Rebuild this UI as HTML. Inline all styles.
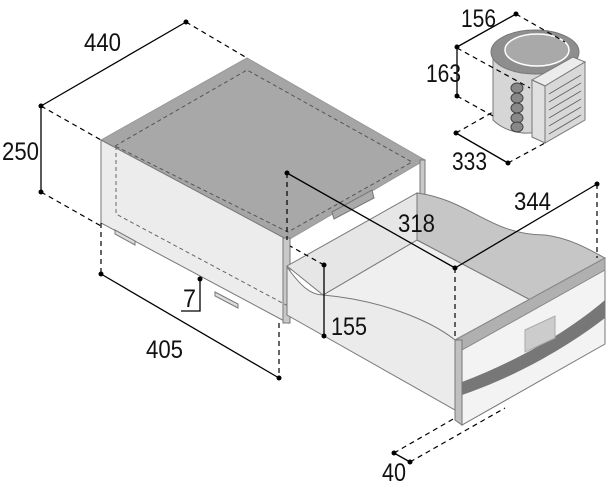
<!DOCTYPE html>
<html><head><style>html,body{margin:0;padding:0;background:#fff}svg{display:block}text{font-family:"Liberation Sans Narrow","Liberation Sans",sans-serif;font-size:25px;fill:#111}</style></head>
<body>
<svg width="608" height="488" viewBox="0 0 608 488" xmlns="http://www.w3.org/2000/svg">
<g stroke="#777" stroke-width="1">
<!-- cabinet -->
<polygon points="101,140 247,58 425,160 288,240" fill="#a5a5a5" stroke="#999"/>
<polygon points="115,146 247,70 412,162 288,232" fill="#a8a8a8" stroke="#555" stroke-dasharray="4,3"/>
<polygon points="101,140 288,240 288,323 101,223" fill="#ececec"/>
<polygon points="283,238 290,238 290,323 283,323" fill="#c8c8c8"/>
<polygon points="420,160 425,160 425,196 420,198" fill="#c8c8c8"/>
<polygon points="332,212 372,190 374,198 334,219" fill="#aaa"/>
<polyline points="116,146 116,214 288,306" fill="none" stroke="#666" stroke-dasharray="4,3"/>
<polygon points="115,230 135,241 135,245 115,234" fill="#ddd"/>
<polygon points="215,292 238,304 238,308 215,296" fill="#ddd"/>
<!-- drawer -->
<polygon points="323,295 417,240 540,305 455,340" fill="#efefef" stroke="#777"/>
<polygon points="287,266 417,193 417,240 323,295" fill="#e6e6e6" stroke="#777"/>
<path d="M417,193 C470,200 490,235 545,235 C570,238 590,250 605,258 L560,300 L540,305 L417,240 Z" fill="#c6c6c6" stroke="#777"/>
<path d="M287,267 C300,285 310,295 323,295 C380,300 430,320 455,340 L455,410 L287,315 Z" fill="#ebebeb" stroke="#777"/>
<polygon points="455,340 605,258 605,344 462,425 455,410" fill="#f3f3f3" stroke="#777"/>
<polygon points="455,340 605,258 605,270 462,350" fill="#b0b0b0" stroke="#888"/>
<polygon points="455,340 462,340 462,425 455,420" fill="#c0c0c0"/>
<path d="M462,382 C520,360 570,330 605,300 L605,318 C570,345 520,375 462,395 Z" fill="#777" stroke="none"/>
<polygon points="525,330 555,316 555,338 525,352" fill="#ccc" stroke="#aaa"/>
<!-- compressor -->
<path d="M493,52 L493,120 C505,132 525,135 535,132 L535,80 L575,60 C580,45 565,35 540,32 C505,32 493,42 493,52 Z" fill="#d6d6d6"/>
<ellipse cx="535" cy="52" rx="44" ry="22" fill="#8e8e8e"/>
<ellipse cx="537" cy="50" rx="32" ry="16" fill="#a9a9a9" stroke="#fff" stroke-width="1.5"/>
<g fill="#888" stroke="#444"><ellipse cx="517" cy="88" rx="6" ry="5"/><ellipse cx="517" cy="98" rx="6" ry="5"/><ellipse cx="517" cy="108" rx="6" ry="5"/><ellipse cx="517" cy="118" rx="6" ry="5"/><ellipse cx="517" cy="127" rx="6" ry="5"/></g>
<polygon points="532,80 573,57 585,62 545,86" fill="#ececec"/>
<polygon points="532,80 545,86 545,143 532,137" fill="#e0e0e0"/>
<polygon points="545,86 585,62 585,120 545,143" fill="#d8d8d8"/>
<g stroke="#666"><line x1="549" y1="94" x2="581" y2="75"/><line x1="549" y1="102" x2="581" y2="83"/><line x1="549" y1="110" x2="581" y2="91"/><line x1="549" y1="118" x2="581" y2="99"/><line x1="549" y1="126" x2="581" y2="107"/><line x1="549" y1="134" x2="581" y2="115"/></g>
</g>
<!-- dimensions -->
<g stroke="#000" stroke-width="1.3" fill="none">
<line x1="41" y1="106" x2="186" y2="22"/><line x1="41" y1="106" x2="41" y2="192"/>
<line x1="101" y1="274" x2="279" y2="378"/>
<line x1="287" y1="173" x2="455" y2="268"/><line x1="455" y1="268" x2="597" y2="184"/>
<line x1="324" y1="265" x2="324" y2="336"/>
<line x1="394" y1="453" x2="410" y2="462"/>
<line x1="457" y1="47" x2="516" y2="14"/><line x1="457" y1="48" x2="457" y2="96"/>
<line x1="456" y1="133" x2="508" y2="163"/>
<polyline points="181,311 200,311 200,280"/>
</g>
<g stroke="#000" stroke-width="1.2" stroke-dasharray="5,4" fill="none">
<line x1="186" y1="22" x2="247" y2="58"/><line x1="41" y1="106" x2="101" y2="140"/>
<line x1="41" y1="192" x2="101" y2="226"/>
<line x1="101" y1="223" x2="101" y2="274"/><line x1="279" y1="323" x2="279" y2="378"/>
<line x1="287" y1="173" x2="287" y2="240"/>
<line x1="597" y1="184" x2="597" y2="258"/>
<line x1="455" y1="268" x2="455" y2="340"/>
<line x1="324" y1="265" x2="290" y2="246"/>
<line x1="394" y1="453" x2="455" y2="418"/><line x1="410" y1="462" x2="505" y2="408"/>
<line x1="516" y1="14" x2="565" y2="42"/><line x1="457" y1="48" x2="530" y2="88"/>
<line x1="457" y1="96" x2="493" y2="116"/><line x1="456" y1="133" x2="493" y2="112"/>
<line x1="508" y1="163" x2="545" y2="143"/>
</g>
<g fill="#000">
<circle cx="41" cy="106" r="2.5"/><circle cx="186" cy="22" r="2.5"/><circle cx="41" cy="192" r="2.5"/>
<circle cx="101" cy="274" r="2.5"/><circle cx="279" cy="378" r="2.5"/><circle cx="200" cy="279" r="2.5"/>
<circle cx="287" cy="173" r="2.5"/><circle cx="455" cy="268" r="2.5"/><circle cx="597" cy="184" r="2.5"/>
<circle cx="324" cy="265" r="2.5"/><circle cx="324" cy="336" r="2.5"/>
<circle cx="394" cy="453" r="2.5"/><circle cx="410" cy="462" r="2.5"/>
<circle cx="457" cy="47" r="2.5"/><circle cx="516" cy="14" r="2.5"/><circle cx="457" cy="96" r="2.5"/>
<circle cx="456" cy="133" r="2.5"/><circle cx="508" cy="163" r="2.5"/>
</g>
<g lengthAdjust="spacingAndGlyphs">
<text x="84" y="51" textLength="37" lengthAdjust="spacingAndGlyphs">440</text>
<text x="2" y="160" textLength="37" lengthAdjust="spacingAndGlyphs">250</text>
<text x="146" y="358" textLength="37" lengthAdjust="spacingAndGlyphs">405</text>
<text x="183" y="307" textLength="13" lengthAdjust="spacingAndGlyphs">7</text>
<text x="398" y="232" textLength="37" lengthAdjust="spacingAndGlyphs">318</text>
<text x="514" y="210" textLength="37" lengthAdjust="spacingAndGlyphs">344</text>
<text x="331" y="335" textLength="36" lengthAdjust="spacingAndGlyphs">155</text>
<text x="382" y="481" textLength="24" lengthAdjust="spacingAndGlyphs">40</text>
<text x="461" y="27" textLength="35" lengthAdjust="spacingAndGlyphs">156</text>
<text x="426" y="82" textLength="35" lengthAdjust="spacingAndGlyphs">163</text>
<text x="452" y="170" textLength="35" lengthAdjust="spacingAndGlyphs">333</text>
</g>
</svg>
</body></html>
